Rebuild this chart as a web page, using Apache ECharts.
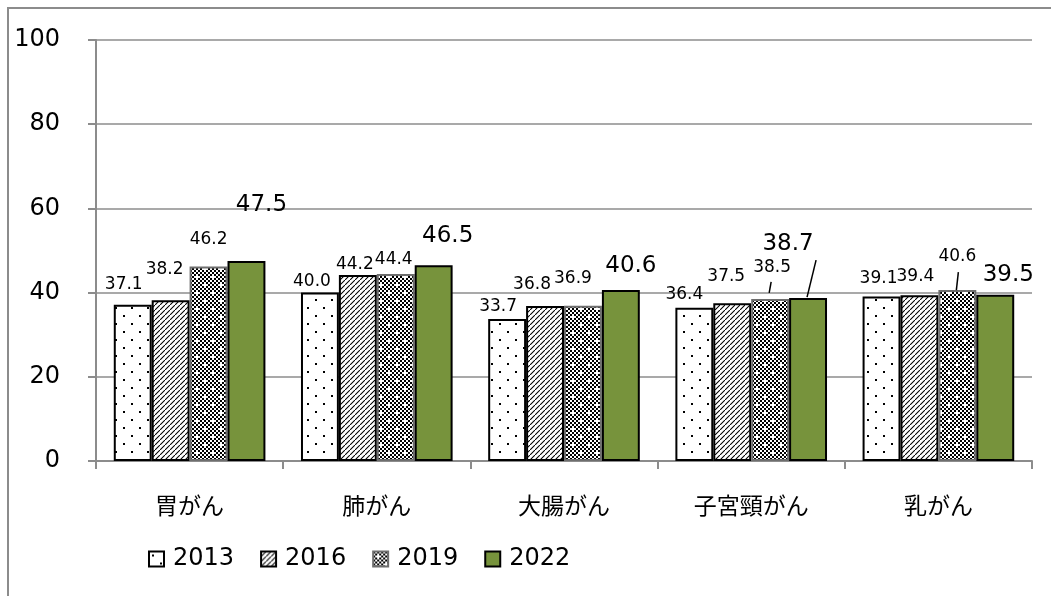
<!DOCTYPE html>
<html>
<head>
<meta charset="utf-8">
<script src="https://cdn.jsdelivr.net/npm/echarts@6/dist/echarts.min.js"></script>
<style>
html,body{margin:0;padding:0;background:#fff;}
#main{width:1051px;height:596px;}
</style>
</head>
<body>
<div id="main"></div>
<script>
// ---- data ----
const categories = ['胃がん', '肺がん', '大腸がん', '子宮頸がん', '乳がん'];
const seriesNames = ['2013', '2016', '2019', '2022'];
const values2013 = [37.1, 40.0, 33.7, 36.4, 39.1];
const values2016 = [38.2, 44.2, 36.8, 37.5, 39.4];
const values2019 = [46.2, 44.4, 36.9, 38.5, 40.6];
const values2022 = [47.5, 46.5, 40.6, 38.7, 39.5];
const yTicks = [0, 20, 40, 60, 80, 100];

// label nudges (pixels)
const nudge2013 = [[-9, -7], [-8, 2], [-9, 1], [-10, 0], [-3, -4]];
const nudge2016 = [[-6, -17], [-3, 3], [-13, -8], [-6, -13], [-4, -5]];
const nudge2019 = [[0, -13], [-2, -1], [-10, -14], [2, -18], [0, -20]];
const nudge2022 = [[15, -39], [14, -13], [10, -8], [-20, -38], [13, -3]];
// leader lines: series index, category index, ends relative to the bar's top centre
const leaderSpec = [
  { s: 2, c: 3, from: [1, -17], to: [-1, -6] },
  { s: 3, c: 3, from: [8, -38], to: [-1, -1] },
  { s: 2, c: 4, from: [1, -18], to: [-1, 0] }
];

const BAR_CAT_GAP = 0.19;
const allValues = [values2013, values2016, values2019, values2022];

// ---- patterns ----
function makeCanvas(w, h) { const c = document.createElement('canvas'); c.width = w; c.height = h; return c; }
function dotsPattern() {
  const c = makeCanvas(16, 16), g = c.getContext('2d');
  g.fillStyle = '#fff'; g.fillRect(0, 0, 16, 16);
  g.fillStyle = '#000'; g.fillRect(3, 3, 2, 2); g.fillRect(11, 11, 2, 2);
  return c;
}
function diagPattern() {
  const s = 5, c = makeCanvas(s, s), g = c.getContext('2d');
  g.fillStyle = '#fff'; g.fillRect(0, 0, s, s);
  g.strokeStyle = '#000'; g.lineWidth = 1.05;
  g.beginPath();
  g.moveTo(-1, s + 1); g.lineTo(s + 1, -1);
  g.moveTo(-2, 1); g.lineTo(1, -2);
  g.moveTo(s - 1, s + 2); g.lineTo(s + 2, s - 1);
  g.stroke();
  return c;
}
function checkPattern() {
  const c = makeCanvas(16, 16), g = c.getContext('2d');
  g.fillStyle = '#fff'; g.fillRect(0, 0, 16, 16);
  g.fillStyle = '#000';
  for (let x = 0; x < 16; x += 2) for (let y = 0; y < 16; y += 2) {
    if (((x / 2) + (y / 2)) % 2 === 0) g.fillRect(x, y, 2, 2);
  }
  g.fillStyle = '#fff';
  [[4, 4], [12, 12]].forEach(p => { g.fillRect(p[0], p[1], 2, 2); });
  return c;
}

const numFont = '"DejaVu Sans", Verdana, sans-serif';
const jpFont = '"Noto Sans CJK JP", sans-serif';

function makeSeries(name, vals, fill, border, nudges, fontSize) {
  return {
    name: name,
    type: 'bar',
    barGap: '0%',
    barCategoryGap: (BAR_CAT_GAP * 100) + '%',
    data: vals,
    itemStyle: { color: fill, borderColor: border, borderWidth: 2 },
    label: {
      show: true, position: 'top', distance: 5,
      formatter: p => Number(p.value).toFixed(1),
      fontFamily: numFont, fontSize: fontSize, fontWeight: 'normal', color: '#000'
    },
    labelLayout: function (params) {
      const o = nudges[params.dataIndex];
      return { dx: o[0], dy: o[1] };
    }
  };
}

const leaderData = leaderSpec.map((l, k) => [l.c, allValues[l.s][l.c], l.s, k]);

const chart = echarts.init(document.getElementById('main'), null, { renderer: 'canvas' });
chart.setOption({
  animation: false,
  backgroundColor: '#fff',
  graphic: [{
    type: 'rect', silent: true, z: -10,
    shape: { x: 8, y: 8, width: 1300, height: 900 },
    style: { fill: 'none', stroke: '#8c8c8c', lineWidth: 2 }
  }],
  grid: { left: 96, right: 19, top: 40, bottom: 135, containLabel: false },
  legend: {
    data: seriesNames,
    left: 143, top: 542,
    icon: 'rect', itemWidth: 15, itemHeight: 15, itemGap: 26,
    textStyle: { fontFamily: numFont, fontSize: 24, color: '#000', padding: [0, 0, 0, 4] }
  },
  xAxis: {
    type: 'category',
    data: categories,
    axisLine: { lineStyle: { color: '#8c8c8c', width: 2 } },
    axisTick: { show: true, length: 8, lineStyle: { color: '#8c8c8c', width: 2 } },
    axisLabel: { fontFamily: jpFont, fontSize: 23, color: '#000', margin: 33 }
  },
  yAxis: {
    type: 'value',
    min: yTicks[0], max: yTicks[yTicks.length - 1], interval: yTicks[1] - yTicks[0],
    axisLine: { show: true, lineStyle: { color: '#8c8c8c', width: 2 } },
    axisTick: { show: true, length: 8, lineStyle: { color: '#8c8c8c', width: 2 } },
    splitLine: { lineStyle: { color: '#8c8c8c', width: 1.5 } },
    axisLabel: { fontFamily: numFont, fontSize: 24, color: '#000', margin: 36 }
  },
  series: [
    makeSeries(seriesNames[0], values2013, { image: dotsPattern(), repeat: 'repeat' }, '#000', nudge2013, 17),
    makeSeries(seriesNames[1], values2016, { image: diagPattern(), repeat: 'repeat' }, '#000', nudge2016, 17),
    makeSeries(seriesNames[2], values2019, { image: checkPattern(), repeat: 'repeat' }, '#6e6e6e', nudge2019, 17),
    makeSeries(seriesNames[3], values2022, '#77933C', '#000', nudge2022, 23),
    {
      name: 'leaders',
      type: 'custom',
      silent: true,
      z: 5,
      data: leaderData,
      renderItem: function (params, api) {
        const c = api.value(0), v = api.value(1), s = api.value(2), k = api.value(3);
        const cw = api.size([1, 0])[0];
        const group = cw * (1 - BAR_CAT_GAP);
        const bw = group / seriesNames.length;
        const base = api.coord([c, v]);
        const x = base[0] - group / 2 + bw * (s + 0.5);
        const y = base[1];
        const spec = leaderSpec[k];
        return {
          type: 'line',
          shape: { x1: x + spec.from[0], y1: y + spec.from[1], x2: x + spec.to[0], y2: y + spec.to[1] },
          style: { stroke: '#000', lineWidth: 1.5 }
        };
      }
    }
  ]
});
</script>
</body>
</html>
